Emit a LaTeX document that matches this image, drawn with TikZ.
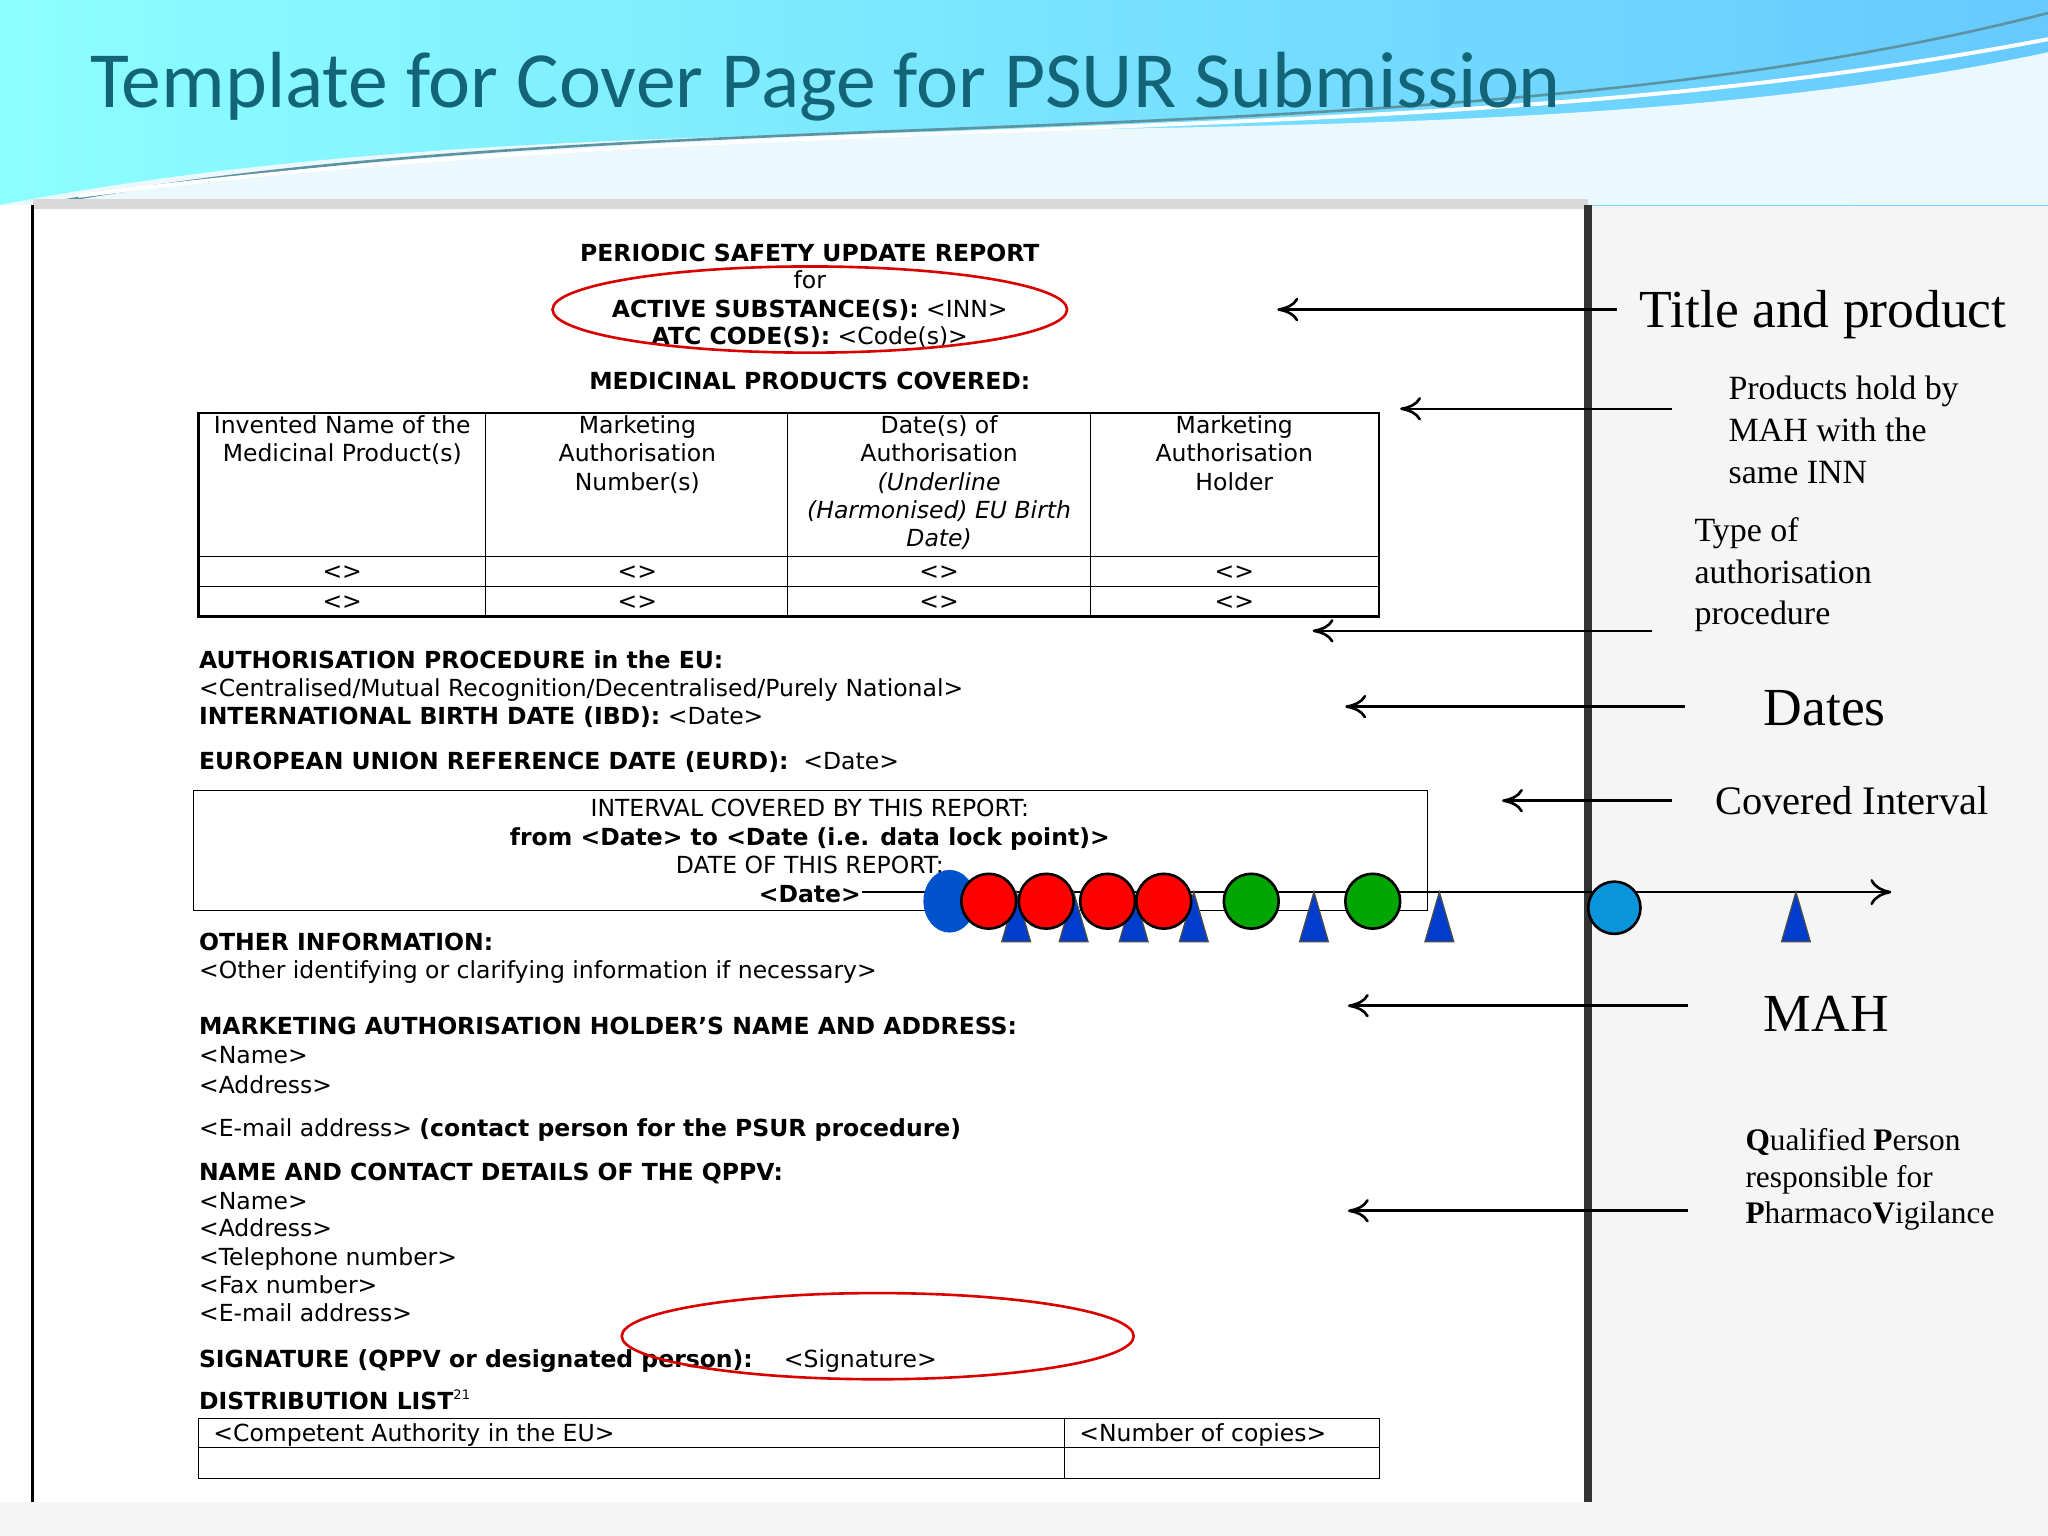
\documentclass[tikz,border=0pt]{standalone}
\usepackage{fontspec}
\setmainfont{DejaVu Sans}
\newfontfamily\serf{Liberation Serif}
\newfontfamily\ttl{Carlito}
\usetikzlibrary{arrows.meta,shapes.geometric}
\definecolor{teal1}{RGB}{20,100,120}
\begin{document}
\begin{tikzpicture}[x=0.5pt,y=-0.5pt,
  doc/.style={anchor=base west,inner sep=0,font=\fontsize{9}{11}\selectfont},
  docc/.style={anchor=base,inner sep=0,font=\fontsize{9}{11}\selectfont,align=center},
  lab/.style={font=\serf\fontsize{13}{16}\selectfont,align=left,anchor=west,inner sep=0},
  big/.style={font=\serf\fontsize{20.5}{24}\selectfont,anchor=west,inner sep=0},
  pt/.style={-{To[length=8pt,width=9pt]},line width=1pt},
  tri/.style={draw=black!70,fill=blue!70!cyan!80!black,line width=0.5pt}]
\useasboundingbox (0,0) rectangle (1568,1176);
\fill[gray!8] (0,0) rectangle (1568,1176);
% banner
\shade[left color=cyan!45,right color=blue!35!cyan!60] (0,0) rectangle (1568,157);
\fill[white!60!cyan!20] (0,157) .. controls (500,60) and (1100,140) .. (1568,40) -- (1568,157) -- cycle;
\draw[teal1!70,line width=1pt] (30,157) .. controls (500,70) and (1100,130) .. (1568,10);
\draw[white,line width=1.5pt] (60,150) .. controls (600,80) and (1100,120) .. (1568,30);
\fill[white] (0,157) rectangle (1216,1150);
\fill[gray!30] (25,152) rectangle (1216,160);
\draw[line width=1pt] (25,157) -- (25,1150);
\draw[line width=3pt,black!80] (1216,157) -- (1216,1150);
\node[anchor=west,font=\ttl\fontsize{30.5}{34}\selectfont,text=teal1] (title) at (62,66) {Template for Cover Page for PSUR Submission};
% header
\node[docc,font=\bfseries\fontsize{9}{11}\selectfont] (h1) at (620,200) {PERIODIC SAFETY UPDATE REPORT};
\node[docc] (h2) at (620,221) {for};
\node[docc] (h3) at (620,243) {\textbf{ACTIVE SUBSTANCE(S):} <INN>};
\node[docc] (h4) at (620,264) {\textbf{ATC CODE(S):} <Code(s)>};
\node[docc,font=\bfseries\fontsize{9}{11}\selectfont] (h5) at (620,298) {MEDICINAL PRODUCTS COVERED:};
\draw[red!85!black,line width=1pt] (620,237) ellipse [x radius=197,y radius=33];
% table
\draw[line width=0.8pt] (152,316) rectangle (1056,472);
\draw (152,426) -- (1056,426) (152,449) -- (1056,449);
\foreach \x in {372,603,835} \draw (\x,316) -- (\x,472);
\node[docc,anchor=north,font=\fontsize{9}{10.8}\selectfont] (c1) at (262,318) {Invented Name of the\\Medicinal Product(s)};
\node[docc,anchor=north,font=\fontsize{9}{10.8}\selectfont] (c2) at (488,318) {Marketing\\Authorisation\\Number(s)};
\node[docc,anchor=north,font=\fontsize{9}{10.8}\selectfont] (c3) at (719,318) {Date(s) of\\Authorisation\\\textit{(Underline}\\\textit{(Harmonised) EU Birth}\\\textit{Date)}};
\node[docc,anchor=north,font=\fontsize{9}{10.8}\selectfont] (c4) at (945,318) {Marketing\\Authorisation\\Holder};
\foreach \x in {262,488,719,945}{\node[docc] at (\x,444) {<>};\node[docc] at (\x,467) {<>};}
% body
\node[doc] (a1) at (152,512) {\textbf{AUTHORISATION PROCEDURE in the EU:}};
\node[doc] (a2) at (152,533) {<Centralised/Mutual Recognition/Decentralised/Purely National>};
\node[doc] (a3) at (152,555) {\textbf{INTERNATIONAL BIRTH DATE (IBD):} <Date>};
\node[doc] (a4) at (152,589) {\textbf{EUROPEAN UNION REFERENCE DATE (EURD):}\ \ <Date>};
\draw (148,605) rectangle (1093,697);
\node[docc] (i1) at (620,625) {INTERVAL COVERED BY THIS REPORT:};
\node[docc] (i2) at (620,647) {\textbf{from <Date> to <Date (i.e. data lock point)>}};
\node[docc] (i3) at (620,669) {DATE OF THIS REPORT:};
\node[docc] (i4) at (620,691) {\textbf{<Date>}};
\node[doc] (o1) at (152,728) {\textbf{OTHER INFORMATION:}};
\node[doc] (o2) at (152,749) {<Other identifying or clarifying information if necessary>};
\node[doc] (m1) at (152,792) {\textbf{MARKETING AUTHORISATION HOLDER'S NAME AND ADDRESS:}};
\node[doc] (m2) at (152,814) {<Name>};
\node[doc] (m3) at (152,837) {<Address>};
\node[doc] (m4) at (152,870) {<E-mail address> \textbf{(contact person for the PSUR procedure)}};
\node[doc] (q1) at (152,904) {\textbf{NAME AND CONTACT DETAILS OF THE QPPV:}};
\node[doc] (q2) at (152,926) {<Name>};
\node[doc] (q3) at (152,947) {<Address>};
\node[doc] (q4) at (152,969) {<Telephone number>};
\node[doc] (q5) at (152,990) {<Fax number>};
\node[doc] (q6) at (152,1012) {<E-mail address>};
\node[doc] (s1) at (152,1047) {\textbf{SIGNATURE (QPPV or designated person):}\quad\ <Signature>};
\node[doc] (d1) at (152,1079) {\textbf{DISTRIBUTION LIST}\textsuperscript{\tiny 21}};
\draw[red!85!black,line width=1pt] (672,1023) ellipse [x radius=196,y radius=33];
\draw (152,1086) rectangle (1056,1132) (152,1108) -- (1056,1108) (815,1086) -- (815,1132);
\node[doc] (t1) at (163,1104) {<Competent Authority in the EU>};
\node[doc] (t2) at (826,1104) {<Number of copies>};
% timeline
\coordinate (tl0) at (660,683);
\coordinate (tl1) at (1448,683);
\draw[line width=1pt,-{To[length=8pt,width=10pt]}] (tl0) -- (tl1);
\fill[blue!60!cyan!80!black] (727,690) ellipse [x radius=20,y radius=24];
\foreach \x in {778,822,868,914,1006,1102,1375}
  \draw[tri] (\x-11,721) -- (\x,683) -- (\x+11,721) -- cycle;
\foreach \x in {757,801,848,891}
  \draw[fill=red,line width=1pt] (\x,690) circle (21);
\foreach \x in {958,1051}
  \draw[fill=green!65!black,line width=1pt] (\x,690) circle (21);
\draw[fill=cyan!80!blue,line width=1pt] (1236,695) circle (20);
% labels
\node[big] (L1) at (1255,241) {Title and product};
\node[lab] (L2) at (1323,329) {Products hold by\\MAH with the\\same INN};
\node[lab] (L3) at (1297,440) {Type of\\authorisation\\procedure};
\node[big] (L4) at (1350,542) {Dates};
\node[lab,font=\serf\fontsize{15.5}{18}\selectfont] (L5) at (1313,613) {Covered Interval};
\node[big] (L6) at (1350,776) {MAH};
\node[lab,font=\serf\fontsize{12}{14}\selectfont] (L7) at (1336,903) {\textbf{Q}ualified \textbf{P}erson\\responsible for\\\textbf{P}harmaco\textbf{V}igilance};
\coordinate (e1) at (978,237); \coordinate (s1a) at (1238,237);
\coordinate (e2) at (1072,313); \coordinate (s2a) at (1280,313);
\coordinate (e3) at (1005,483); \coordinate (s3a) at (1265,483);
\coordinate (e4) at (1030,541); \coordinate (s4a) at (1290,541);
\coordinate (e5) at (1150,613); \coordinate (s5a) at (1280,613);
\coordinate (e6) at (1032,770); \coordinate (s6a) at (1292,770);
\coordinate (e7) at (1032,927); \coordinate (s7a) at (1292,927);
\foreach \i in {1,...,7} \draw[pt] (s\i a) -- (e\i);
\end{tikzpicture}
\end{document}
